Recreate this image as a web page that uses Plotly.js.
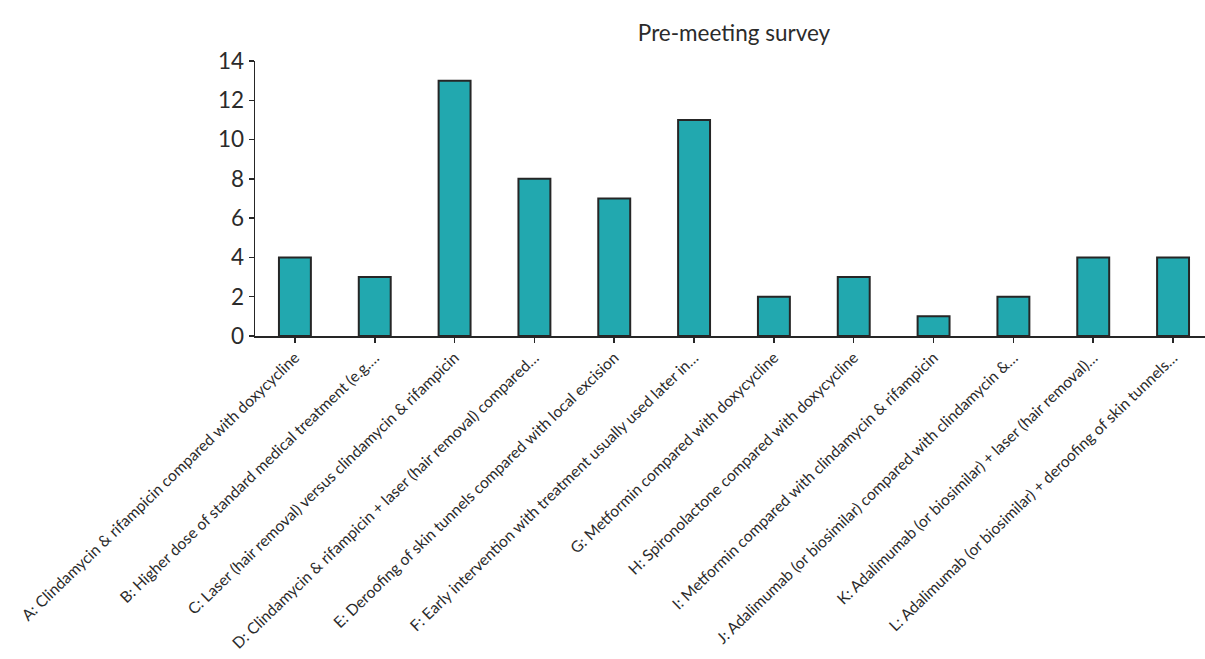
<!DOCTYPE html>
<html>
<head>
<meta charset="utf-8">
<script src="https://cdn.plot.ly/plotly-3.0.1.min.js"></script>
<style>
  html, body { margin: 0; padding: 0; background: #fff; }
  #chart { width: 1205px; height: 659px; }
</style>
</head>
<body>
<div id="chart"></div>
<script>
// Survey options (truncated as shown on the axis)
const categories = [
  "A: Clindamycin & rifampicin compared with doxycycline",
  "B: Higher dose of standard medical treatment (e.g.…",
  "C: Laser (hair removal) versus clindamycin & rifampicin",
  "D: Clindamycin & rifampicin + laser (hair removal) compared…",
  "E: Deroofing of skin tunnels compared with local excision",
  "F: Early intervention with treatment usually used later in…",
  "G: Metformin compared with doxycycline",
  "H: Spironolactone compared with doxycycline",
  "I: Metformin compared with clindamycin & rifampicin",
  "J: Adalimumab (or biosimilar) compared with clindamycin &…",
  "K: Adalimumab (or biosimilar) + laser (hair removal)…",
  "L: Adalimumab (or biosimilar) + deroofing of skin tunnels…"
];

// Number of votes per option
const votes = [4, 3, 13, 8, 7, 11, 2, 3, 1, 2, 4, 4];

const yTicks = [0, 2, 4, 6, 8, 10, 12, 14];

const trace = {
  type: "bar",
  x: categories,
  y: votes,
  width: 0.4,
  marker: {
    color: "#22A8AF",
    line: { color: "#262626", width: 2 }
  },
  hoverinfo: "x+y"
};

const W = 1205, H = 659;
const margin = { l: 255, r: 0, t: 61, b: 323 };

const layout = {
  width: W,
  height: H,
  margin: margin,
  paper_bgcolor: "#ffffff",
  plot_bgcolor: "#ffffff",
  font: { family: "Lato, 'Open Sans', sans-serif", color: "#2b2b2b" },
  title: {
    text: "Pre-meeting survey",
    font: { size: 22.5, color: "#2b2b2b" },
    xref: "paper",
    x: (734 - margin.l) / (W - margin.l - margin.r),
    xanchor: "center",
    yref: "container",
    y: 1 - 33 / H,
    yanchor: "middle"
  },
  showlegend: false,
  xaxis: {
    type: "category",
    range: [-0.5, 11.4],
    tickangle: -44,
    tickfont: { size: 15.6, color: "#2b2b2b" },
    ticks: "outside",
    ticklen: 5,
    tickwidth: 1.5,
    tickcolor: "#262626",
    showline: true,
    linecolor: "#262626",
    linewidth: 1.5,
    showgrid: false,
    zeroline: false,
    automargin: false
  },
  yaxis: {
    range: [0, 14],
    tickvals: yTicks,
    ticktext: yTicks.map(String),
    tickfont: { size: 22.5, color: "#2b2b2b" },
    ticks: "outside",
    ticklen: 5,
    tickwidth: 1.5,
    tickcolor: "#262626",
    showline: true,
    linecolor: "#262626",
    linewidth: 1.5,
    showgrid: false,
    zeroline: false,
    automargin: false
  }
};

Plotly.newPlot("chart", [trace], layout, { displayModeBar: false, staticPlot: true });
</script>
</body>
</html>
